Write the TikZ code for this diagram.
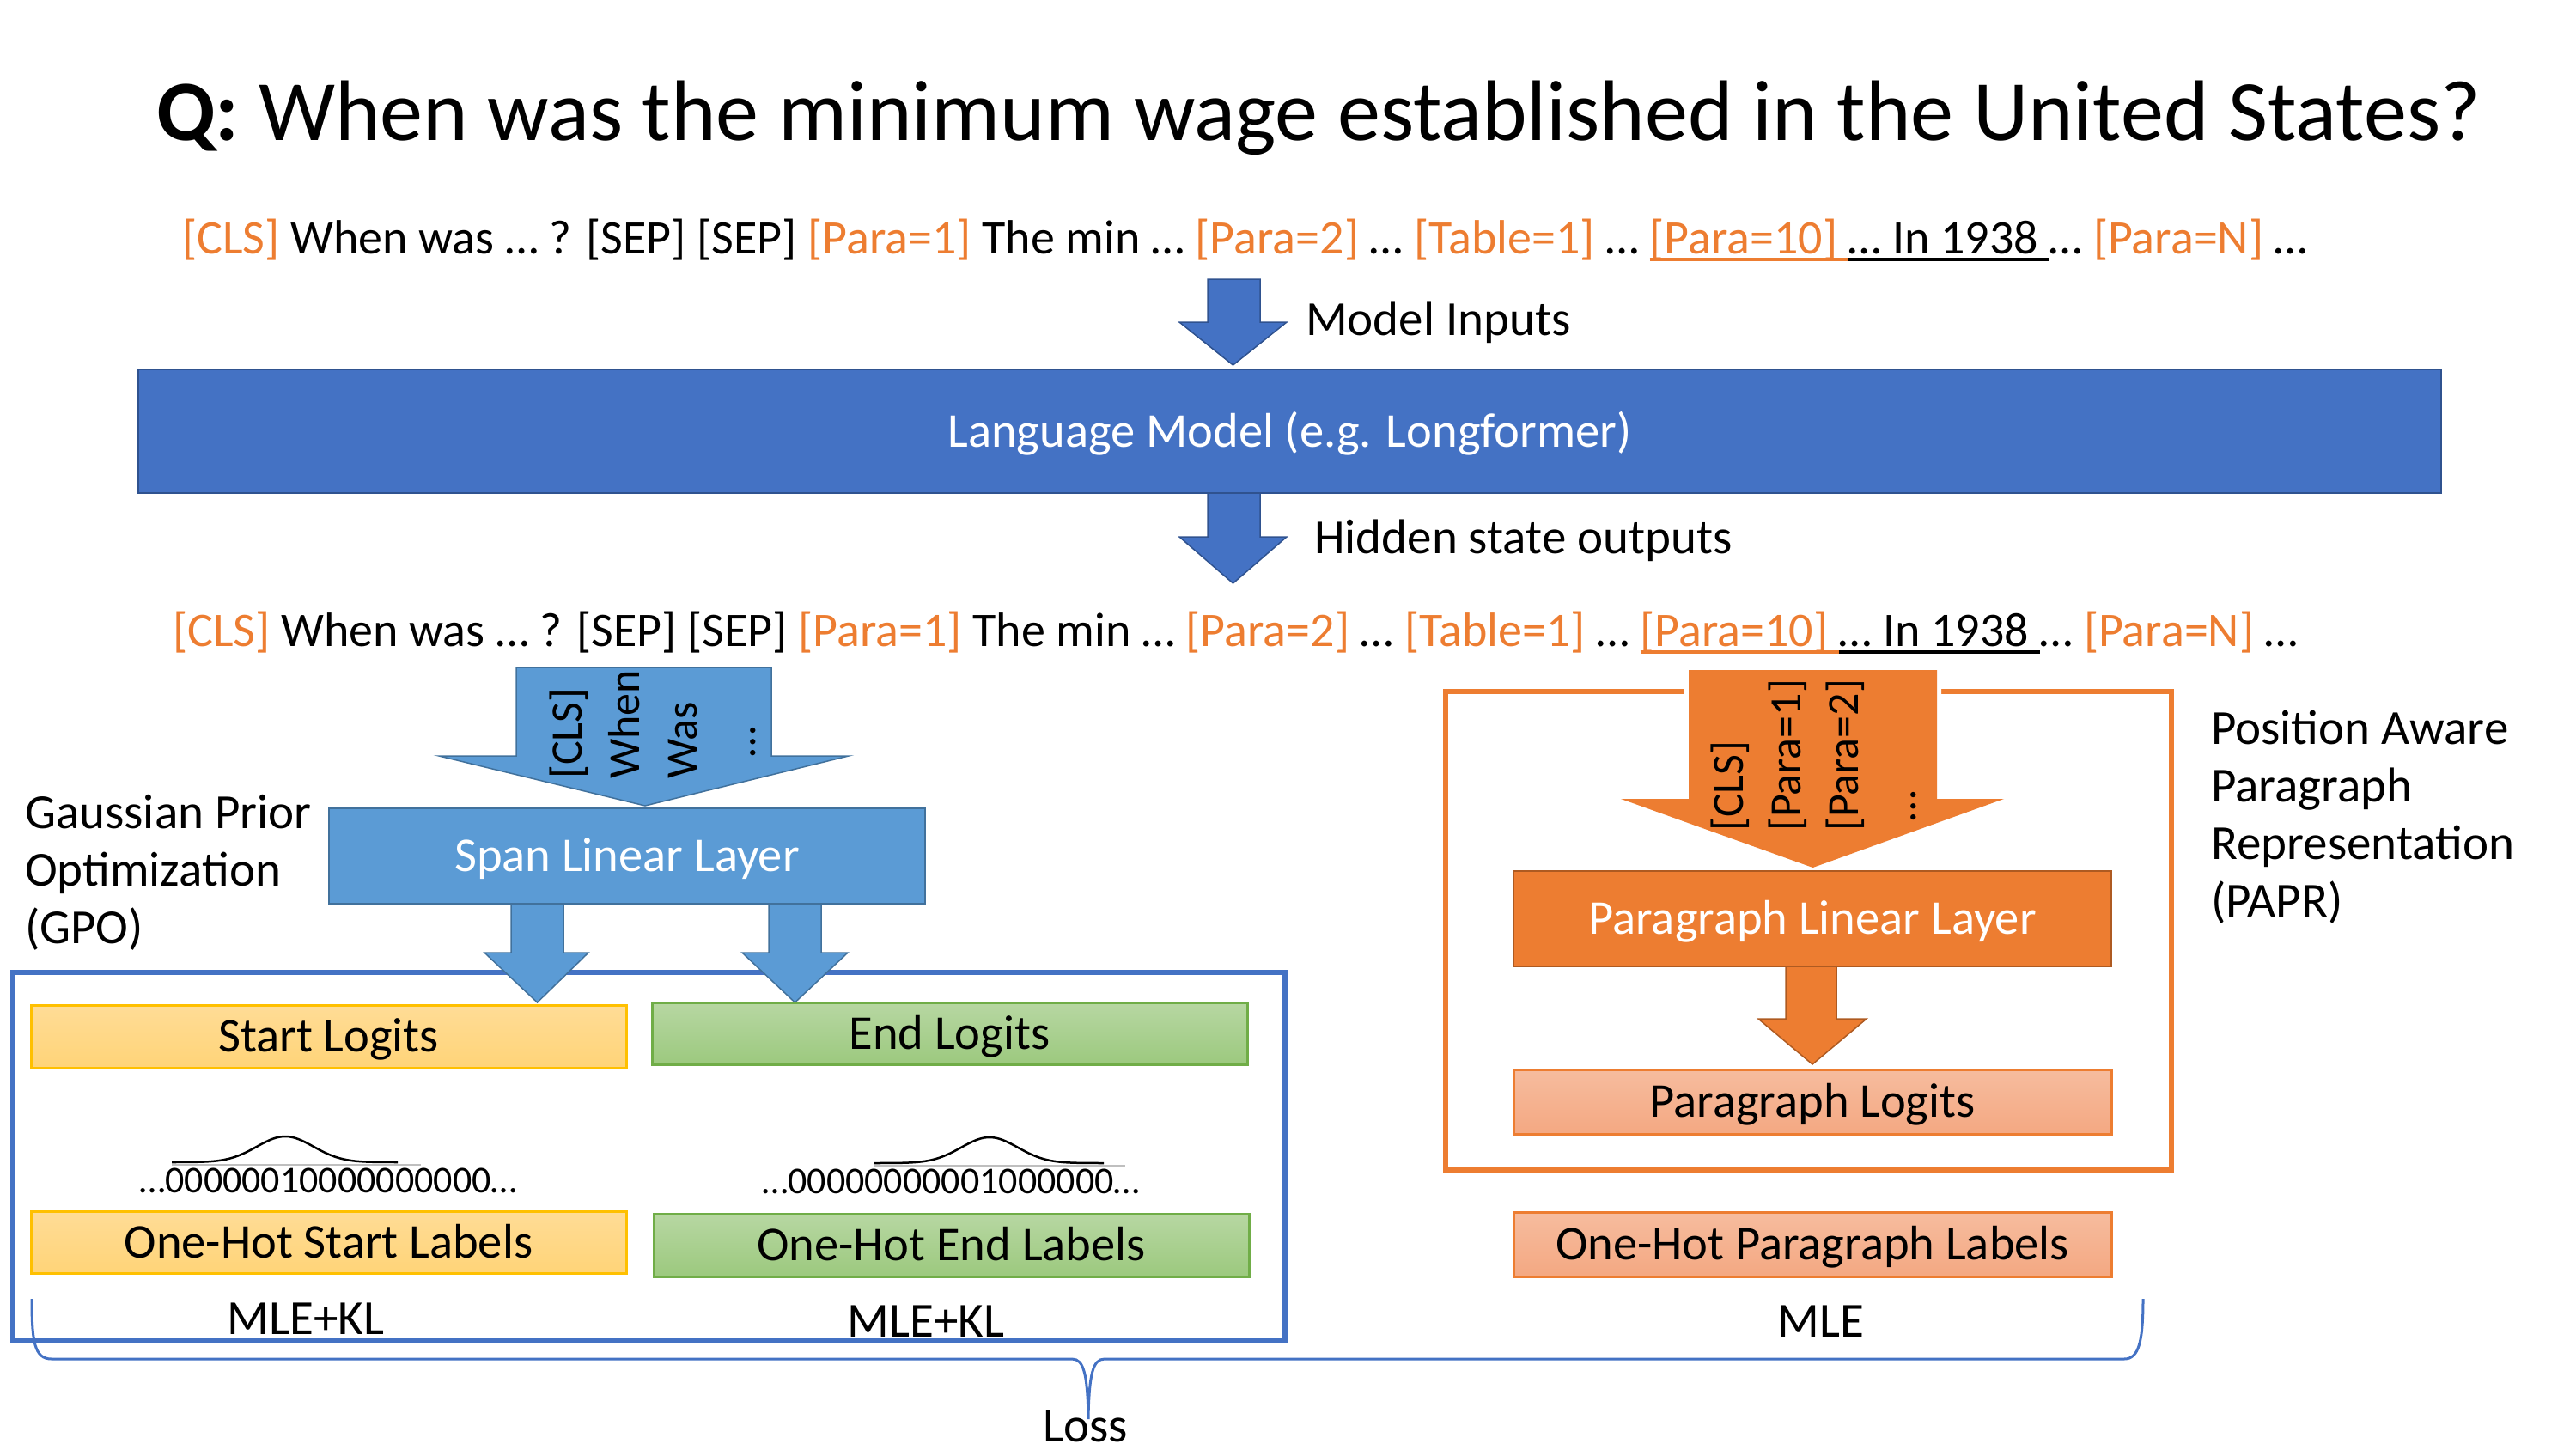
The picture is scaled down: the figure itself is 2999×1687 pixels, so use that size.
\documentclass[tikz,border=0pt]{standalone}
\usepackage{fontspec}
\setmainfont{Carlito}
\definecolor{dblue}{HTML}{4472C4}
\definecolor{dblueB}{HTML}{2F528F}
\definecolor{lblue}{HTML}{5B9BD5}
\definecolor{lblueB}{HTML}{41719C}
\definecolor{orng}{HTML}{ED7D31}
\definecolor{orngB}{HTML}{AE5A21}
\definecolor{gold}{HTML}{FFC000}
\definecolor{goldT}{HTML}{FFDC96}
\definecolor{goldB}{HTML}{FFD478}
\definecolor{grn}{HTML}{70AD47}
\definecolor{grnT}{HTML}{B7D7A2}
\definecolor{grnB}{HTML}{9CC97E}
\definecolor{salT}{HTML}{F6BC9E}
\definecolor{salB}{HTML}{F4A882}
\definecolor{gline}{HTML}{BFBFBF}
\newsavebox\ulbox
\newcommand\thickul[1]{\sbox\ulbox{#1}\rlap{\usebox\ulbox}\rule[-9pt]{\wd\ulbox}{4pt}}
\newcommand\ot[1]{\textcolor{orng}{#1}}
\begin{document}
\begin{tikzpicture}[x=1pt,y=-1pt,
  txt/.style={inner sep=0pt, font=\fontsize{57}{68}\selectfont},
  tokline/.style={inner sep=0pt, anchor=base west, font=\fontsize{56}{67}\selectfont},
  rot/.style={inner sep=0pt, rotate=90, anchor=base west, font=\fontsize{52}{62}\selectfont},
  zeros/.style={inner sep=0pt, anchor=base, font=\fontsize{44}{53}\selectfont},
  lbox/.style={inner sep=0pt, text height=42pt, text depth=6pt, font=\fontsize{56.5}{68}\selectfont},
  darkarrow/.style={fill=dblue, draw=dblueB, line width=1.5pt, line join=miter},
  bluearrow/.style={fill=lblue, draw=lblueB, line width=1.5pt, line join=miter},
  orngarrow/.style={fill=orng, draw=orngB, line width=1.5pt, line join=miter},
  goldbox/.style={lbox, draw=gold, line width=3pt, top color=goldT, bottom color=goldB, minimum width=693pt},
  grnbox/.style={lbox, draw=grn, line width=3pt, top color=grnT, bottom color=grnB, minimum width=693pt},
  salbox/.style={lbox, draw=orng, line width=3pt, top color=salT, bottom color=salB, minimum width=696pt},
  gauss/.style={line width=2.5pt, black},
  brace/.style={draw=dblue, line width=3pt}
]
\useasboundingbox (0,0) rectangle (2999,1687);

% title
\node[anchor=base west, inner sep=0pt, font=\fontsize{100.1}{120}\selectfont] (title) at (182,163)
  {\textbf{Q:} When was the minimum wage established in the United States?};

% input line
\node[tokline] (in1) at (212,295)
  {\ot{[CLS]} When was … ? [SEP] [SEP] \ot{[Para=1]} The min … \ot{[Para=2]} … \ot{[Table=1]} … {\color{orng}\thickul{[Para=10] }}\thickul{… In 1938 }… \ot{[Para=N]} …};

% arrow 1
\path[darkarrow] (1406,325) -- (1467,325) -- (1467,375) -- (1498,375) -- (1435.5,425) -- (1373,375) -- (1406,375) -- cycle;
\node[txt, anchor=base west] (mi) at (1520,390) {Model Inputs};

% language model
\node[lbox, draw=dblueB, line width=2pt, fill=dblue, text=white, minimum width=2681pt, minimum height=144pt] (lm) at (1501.5,502) {Language Model (e.g. Longformer)};

% arrow 2
\path[darkarrow] (1406,574) -- (1467,574) -- (1467,625) -- (1498,625) -- (1435.5,679) -- (1373,625) -- (1406,625) -- cycle;
\node[txt, anchor=base west] (hs) at (1530,644) {Hidden state outputs};

% output line
\node[tokline] (in2) at (201,752)
  {\ot{[CLS]} When was … ? [SEP] [SEP] \ot{[Para=1]} The min … \ot{[Para=2]} … \ot{[Table=1]} … {\color{orng}\thickul{[Para=10] }}\thickul{… In 1938 }… \ot{[Para=N]} …};

% GPO box
\draw[dblue, line width=6pt] (15,1132) rectangle (1496,1561);

% span arrow
\path[bluearrow] (601,777) -- (898,777) -- (898,880) -- (988,880) -- (751,938) -- (511,880) -- (601,880) -- cycle;
\node[rot] (sa1) at (677,907) {[CLS]};
\node[rot] (sa2) at (744,907) {When};
\node[rot] (sa3) at (811,907) {Was};
\node[rot] (sa4) at (879,882) {…};

% span linear layer
\node[lbox, draw=lblueB, line width=2pt, fill=lblue, text=white, minimum width=694pt, minimum height=111pt] (span) at (730,996.5) {Span Linear Layer};

% GPO label
\node[txt, anchor=base west] (g1) at (29,964) {Gaussian Prior};
\node[txt, anchor=base west] (g2) at (29,1031) {Optimization};
\node[txt, anchor=base west] (g3) at (29,1098) {(GPO)};

% small arrows
\path[bluearrow] (595,1052) -- (656,1052) -- (656,1109) -- (685,1109) -- (625.5,1167) -- (564,1109) -- (595,1109) -- cycle;
\path[bluearrow] (895,1052) -- (956,1052) -- (956,1109) -- (987,1109) -- (925.5,1167) -- (864,1109) -- (895,1109) -- cycle;

% logits
\node[goldbox, minimum height=73pt] (sl) at (382.5,1206.5) {Start Logits};
\node[grnbox, minimum height=72pt] (el) at (1105.5,1203) {End Logits};

% gaussians
\draw[gline, line width=2pt] (200,1356) -- (490,1356);
\draw[gauss] plot[domain=200:463, samples=90, smooth] (\x, {1353 - 30*exp(-((\x-332)/33)^2/2)});
\node[zeros] (z1) at (382,1388) {…00000010000000000…};
\draw[gline, line width=2pt] (1017,1357) -- (1310,1357);
\draw[gauss] plot[domain=1017:1285, samples=90, smooth] (\x, {1354 - 30*exp(-((\x-1152)/33)^2/2)});
\node[zeros] (z2) at (1107,1389) {…00000000001000000…};

% one-hot labels
\node[goldbox, minimum height=72pt] (osl) at (382.5,1446) {One-Hot Start Labels};
\node[grnbox, minimum height=73pt] (oel) at (1107.5,1449.5) {One-Hot End Labels};

% PAPR box
\draw[orng, line width=6pt] (1683,805) rectangle (2528,1362);

% orange arrow
\path[fill=orng, preaction={draw=white, line width=10pt}] (1966,780) -- (2255,780) -- (2255,930) -- (2333,930) -- (2110.5,1010) -- (1887,930) -- (1966,930) -- cycle;
\node[rot] (pa1) at (2029,968) {[CLS]};
\node[rot] (pa2) at (2096,968) {[Para=1]};
\node[rot] (pa3) at (2163,968) {[Para=2]};
\node[rot] (pa4) at (2230,957) {…};

% paragraph linear layer
\node[lbox, draw=orngB, line width=2pt, fill=orng, text=white, minimum width=696pt, minimum height=111pt] (pll) at (2110,1069.5) {Paragraph Linear Layer};

% small orange arrow
\path[orngarrow] (2079,1125) -- (2138,1125) -- (2138,1186) -- (2173,1186) -- (2110,1239) -- (2047,1186) -- (2079,1186) -- cycle;

\node[salbox, minimum height=75pt] (pl) at (2110,1282.5) {Paragraph Logits};
\node[salbox, minimum height=75pt] (opl) at (2110,1448.5) {One-Hot Paragraph Labels};

% PAPR label
\node[txt, anchor=base west] (p1) at (2574,866) {Position Aware};
\node[txt, anchor=base west] (p2) at (2574,933) {Paragraph};
\node[txt, anchor=base west] (p3) at (2574,1000) {Representation};
\node[txt, anchor=base west] (p4) at (2574,1067) {(PAPR)};

% losses
\node[txt, anchor=base] (m1) at (356,1553) {MLE+KL};
\node[txt, anchor=base] (m2) at (1078,1556) {MLE+KL};
\node[txt, anchor=base] (m3) at (2120,1556) {MLE};

% brace
\draw[brace] (37,1512) .. controls (37,1562) and (40,1582) .. (60,1582) -- (1248,1582)
  .. controls (1262,1582) and (1266,1600) .. (1267,1652)
  .. controls (1268,1600) and (1272,1582) .. (1286,1582) -- (2473,1582)
  .. controls (2490,1582) and (2495,1562) .. (2495,1512);
\node[txt, anchor=base, text depth=0pt] (loss) at (1264,1678) {Loss};
\end{tikzpicture}
\end{document}
